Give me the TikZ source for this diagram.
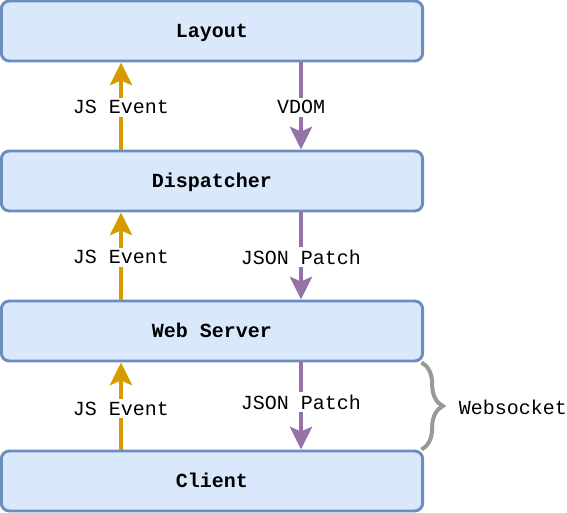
\documentclass[tikz,border=0pt]{standalone}
\usepackage{fontspec}
\setmonofont{Liberation Mono}
\usetikzlibrary{arrows.meta,decorations.pathreplacing}

\definecolor{boxfill}{HTML}{DAE8FC}
\definecolor{boxline}{HTML}{6C8EBF}
\definecolor{evtcol}{HTML}{D79B00}
\definecolor{patchcol}{HTML}{9673A6}
\definecolor{bracecol}{HTML}{999999}

\tikzset{
    layer/.style={draw=boxline, fill=boxfill, line width=2.2pt, rounded corners=6pt,
        minimum width=316pt, minimum height=45pt, text height=12pt, text depth=2.5pt,
        font=\ttfamily\bfseries\fontsize{15}{18}\selectfont},
    evtarrow/.style={evtcol, line width=3pt, -{Stealth[length=17pt,width=16.5pt,inset=3.5pt]}},
    patcharrow/.style={patchcol, line width=3pt, -{Stealth[length=17pt,width=16.5pt,inset=3.5pt]}},
    lbl/.style={fill=white, text=black, inner sep=2pt, font=\ttfamily\fontsize{15}{18}\selectfont}
}

\begin{document}
\begin{tikzpicture}[x=0.75pt,y=-0.75pt]
    \useasboundingbox (0,0) rectangle (567,513);
    % the four layers
    \node[layer] (layout) at (212,31) {Layout};
    \node[layer] (dispatcher) at (212,181) {Dispatcher};
    \node[layer] (server) at (212,331) {Web Server};
    \node[layer] (client) at (212,481) {Client};

    % events going up
    \draw[evtarrow] ([xshift=-68.25pt]dispatcher.north) -- ([xshift=-68.25pt]layout.south) node[lbl, midway, yshift=-1pt] {JS Event};
    \draw[evtarrow] ([xshift=-68.25pt]server.north) -- ([xshift=-68.25pt]dispatcher.south) node[lbl, midway, yshift=-1pt] {JS Event};
    \draw[evtarrow] ([xshift=-68.25pt]client.north) -- ([xshift=-68.25pt]server.south) node[lbl, midway, yshift=-2pt] {JS Event};

    % patches going down
    \draw[patcharrow] ([xshift=66.75pt]layout.south) -- ([xshift=66.75pt]dispatcher.north) node[lbl, midway, yshift=-1pt] {VDOM};
    \draw[patcharrow] ([xshift=66.75pt]dispatcher.south) -- ([xshift=66.75pt]server.north) node[lbl, midway, yshift=-1pt] {JSON Patch};
    \draw[patcharrow] ([xshift=66.75pt]server.south) -- ([xshift=66.75pt]client.north) node[lbl, midway, yshift=3pt] {JSON Patch};

    % websocket brace
    \draw[bracecol, line width=3pt, decorate, decoration={brace, amplitude=16pt}] ([xshift=-2pt]server.south east) -- ([xshift=-2pt]client.north east);
    \node[lbl, fill=none, anchor=west] (ws) at (456,407) {Websocket};
\end{tikzpicture}
\end{document}
